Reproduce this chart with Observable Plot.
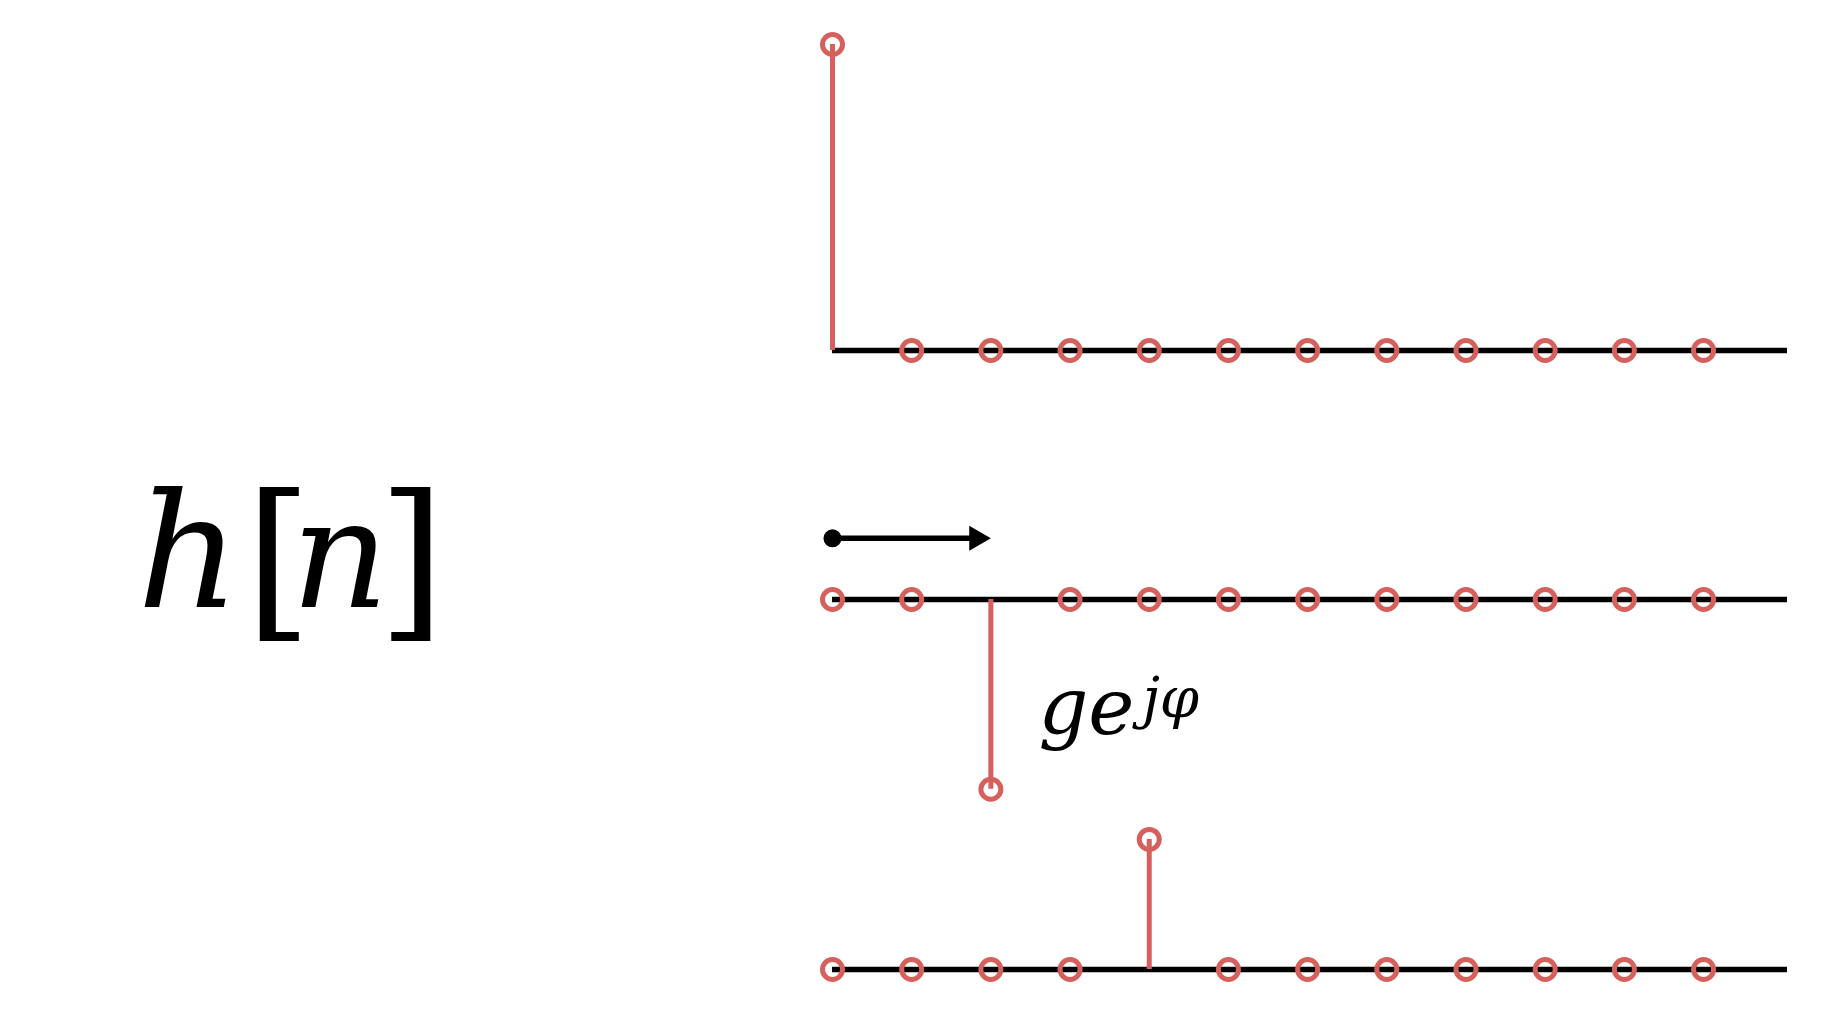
<!DOCTYPE html>
<html><head><meta charset="utf-8">
<script src="https://cdn.jsdelivr.net/npm/d3@7"></script>
<script src="https://cdn.jsdelivr.net/npm/@observablehq/plot@0.6"></script>
<style>
html,body{margin:0;padding:0;background:#fff;}
#wrap{position:relative;width:1828px;height:1010px;overflow:hidden;background:#fff;}
#rows svg{display:block;background:transparent;}
#label{position:absolute;left:0;top:0;pointer-events:none;}
</style></head><body>
<div id="wrap"><div id="rows"></div>
<svg id="label" width="1828" height="1010"><text font-family="DejaVu Serif" fill="#000"><tspan x="137" y="607" font-size="160" font-style="italic">h</tspan><tspan x="245" y="618" font-size="172">[</tspan><tspan x="291" y="607" font-size="152" font-style="italic">n</tspan><tspan x="378" y="618" font-size="172">]</tspan></text></svg>
</div>
<script>
// sample indices
const samples = [0, 1, 2, 3, 4, 5, 6, 7, 8, 9, 10, 11];
// row 1: unit impulse h[n]
const impulse = [1, 0, 0, 0, 0, 0, 0, 0, 0, 0, 0, 0];
// row 2: delayed, scaled impulse (g e^{jφ})
const delayed = [0, 0, -0.62, 0, 0, 0, 0, 0, 0, 0, 0, 0];
// row 3: further delayed impulse
const echo = [0, 0, 0, 0, 0.425, 0, 0, 0, 0, 0, 0, 0];
// shift arrow annotation (from sample 0 to sample 2)
const shiftArrow = [{from: 0, to: 2, level: 0.2}];
// gain label
const gainLabel = [{x: 2.6, y: -0.44, main: "ge", sup: "jφ"}];

const RED = "#d6605c";
const K = 306; // px per unit amplitude

function rowPlot(values, {height, base, lo, hi, extra = []}) {
  const data = samples.map((n, i) => ({n, v: values[i]}));
  return Plot.plot({
    width: 1828,
    height,
    marginLeft: 832,
    marginRight: 41,
    marginTop: 0,
    marginBottom: 0,
    style: {background: "transparent", overflow: "visible"},
    x: {domain: [0, 12.06], axis: null},
    y: {domain: [lo, hi], range: [base - lo * K, base - hi * K], axis: null},
    marks: [
      Plot.ruleY([0], {stroke: "black", strokeWidth: 5.5}),
      Plot.ruleX(data.filter(d => d.v !== 0), {x: "n", y1: 0, y2: "v", stroke: RED, strokeWidth: 5}),
      Plot.dot(data, {x: "n", y: "v", r: 10, stroke: RED, strokeWidth: 5, fill: "none"}),
      ...extra
    ]
  });
}

const rows = document.getElementById("rows");
rows.append(rowPlot(impulse, {height: 440, base: 350, lo: 0, hi: 1}));
rows.append(rowPlot(delayed, {height: 375, base: 159, lo: -0.62, hi: 0.2, extra: [
  Plot.arrow(shiftArrow, {x1: "from", x2: "to", y1: "level", y2: "level", stroke: "black", strokeWidth: 5.5, headLength: 0, insetEnd: 14}),
  Plot.dot(shiftArrow, {x: "from", y: "level", r: 9, fill: "black"}),
  Plot.dot(shiftArrow, {x: "to", y: "level", symbol: "triangle2", rotate: 90, r: 11.9, fill: "black", dx: -14.4}),
  Plot.text(gainLabel, {x: "x", y: "y", text: "main", textAnchor: "start", lineAnchor: "bottom", fontSize: 78, fontStyle: "italic", fontFamily: "DejaVu Serif", fill: "black"}),
  Plot.text(gainLabel, {x: "x", y: "y", text: "sup", textAnchor: "start", lineAnchor: "bottom", fontSize: 56, fontStyle: "italic", fontFamily: "DejaVu Serif", fill: "black", dx: 104, dy: -17})
]}));
rows.append(rowPlot(echo, {height: 195, base: 154, lo: 0, hi: 0.425}));
</script>
</body></html>
